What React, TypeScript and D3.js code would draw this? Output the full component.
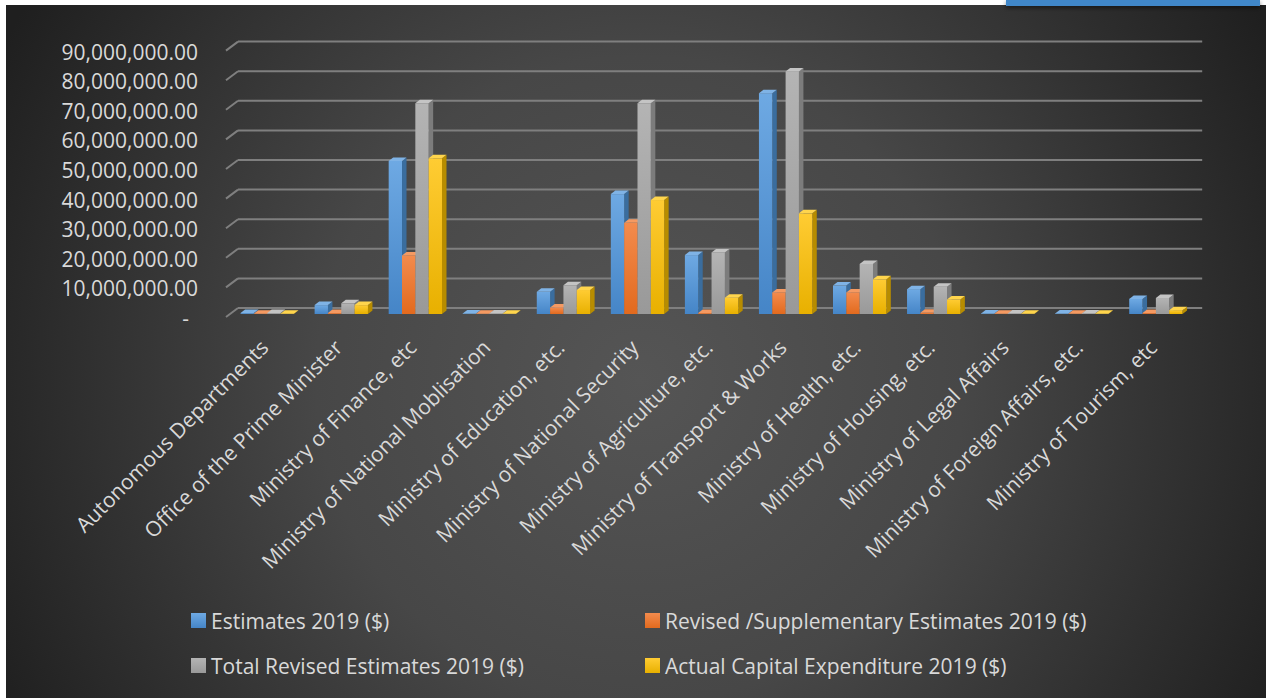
import React from "react";
import * as d3 from "d3";

const categories = [
  "Autonomous Departments",
  "Office of the Prime Minister",
  "Ministry of Finance, etc",
  "Ministry of National Moblisation",
  "Ministry of Education, etc.",
  "Ministry of National Security",
  "Ministry of Agriculture, etc.",
  "Ministry of Transport & Works",
  "Ministry of Health, etc.",
  "Ministry of Housing, etc.",
  "Ministry of Legal Affairs",
  "Ministry of Foreign Affairs, etc.",
  "Ministry of Tourism, etc",
];

const seriesNames = [
  "Estimates 2019 ($)",
  "Revised /Supplementary Estimates 2019 ($)",
  "Total Revised Estimates 2019 ($)",
  "Actual Capital Expenditure 2019 ($)",
];

const estimates = [0.3e6, 3.0e6, 51.7e6, 0.2e6, 7.5e6, 40.5e6, 19.9e6, 74.6e6, 9.6e6, 8.4e6, 0.2e6, 0.2e6, 5.1e6];
const revised = [0.1e6, 0.3e6, 19.8e6, 0.1e6, 2.2e6, 30.8e6, 0.3e6, 7.3e6, 7.3e6, 0.4e6, 0.1e6, 0.1e6, 0.3e6];
const totalRevised = [0.3e6, 3.6e6, 71.2e6, 0.2e6, 9.7e6, 71.2e6, 20.8e6, 81.9e6, 16.9e6, 9.2e6, 0.2e6, 0.2e6, 5.4e6];
const actual = [0.1e6, 3.0e6, 52.6e6, 0.1e6, 8.1e6, 38.5e6, 5.5e6, 34.0e6, 11.7e6, 4.9e6, 0.1e6, 0.1e6, 1.3e6];

const yTicks = [0, 10e6, 20e6, 30e6, 40e6, 50e6, 60e6, 70e6, 80e6, 90e6];

const seriesValues = [estimates, revised, totalRevised, actual];

const palette = [
  { top: "#7fb3e6", light: "#6ea9e3", dark: "#4585c7", side: "#3a6d9e" },
  { top: "#f59a62", light: "#f38b4d", dark: "#e26a1e", side: "#b4561a" },
  { top: "#c4c4c4", light: "#b4b4b4", dark: "#999999", side: "#7c7c7c" },
  { top: "#ffd54d", light: "#ffcc33", dark: "#e8b000", side: "#b78c00" },
];

const FONT = "'Open Sans', 'Noto Sans', sans-serif";
const TEXT = "#d9d9d9";
const FS = 21;

export default function App() {
  const W = 1266;
  const H = 698;
  const baseY = 314; // bar plane baseline
  const plotLeft = 230.2;
  const plotRight = 1192.9;
  const DX = 4.5;
  const DY = -3.5;
  // wall offsets relative to bar plane
  const backDX = 7.8, backDY = -6;
  const frontDX = -4.2, frontDY = 3;

  const h = d3.scaleLinear().domain([0, 90e6]).range([0, 266.4]);
  const x = d3
    .scaleBand<string>()
    .domain(categories)
    .range([plotLeft, plotRight])
    .paddingInner(0.28)
    .paddingOuter(0.14);
  const xs = d3
    .scaleBand<number>()
    .domain(seriesNames.map((_, i) => i))
    .range([0, x.bandwidth()]);
  const fmt = d3.format(",.2f");

  const gridBackLeft = plotLeft + backDX;
  const gridBackRight = plotRight + backDX + 1.5;

  return (
    <svg
      width={W}
      height={H}
      style={{ position: "absolute", left: 0, top: 0, display: "block" }}
      fontFamily={FONT}
    >
      <defs>
        <radialGradient id="bg" cx="640" cy="380" r="720" gradientUnits="userSpaceOnUse">
          <stop offset="0" stopColor="#555555" />
          <stop offset="0.45" stopColor="#474747" />
          <stop offset="1" stopColor="#1f1f1f" />
        </radialGradient>
        {palette.map((p, i) => (
          <linearGradient key={i} id={`bar${i}`} x1="0" y1="0" x2="0" y2="1">
            <stop offset="0" stopColor={p.light} />
            <stop offset="1" stopColor={p.dark} />
          </linearGradient>
        ))}
        <filter id="shadow" x="-10%" y="-50%" width="120%" height="250%">
          <feDropShadow dx="0" dy="2" stdDeviation="2" floodColor="#000" floodOpacity="0.5" />
        </filter>
      </defs>
      <rect x={0} y={0} width={W} height={H} fill="#ffffff" />
      <rect x={6} y={5} width={W - 6} height={H - 5} fill="url(#bg)" />
      <rect x={1006} y={0} width={254} height={6} fill="#3f87c9" filter="url(#shadow)" />

      {/* gridlines */}
      <g stroke="#7f7f7f" strokeWidth={2} fill="none">
        {yTicks.map((t) => {
          const yb = baseY + backDY - h(t);
          const yf = baseY + frontDY - h(t);
          return (
            <g key={t}>
              <line x1={gridBackLeft} y1={yb} x2={gridBackRight} y2={yb} />
              <line x1={plotLeft + frontDX} y1={yf} x2={gridBackLeft} y2={yb} />
            </g>
          );
        })}
      </g>

      {/* y labels */}
      <g fill={TEXT} fontSize={FS}>
        {yTicks.map((t) => {
          const yf = baseY + frontDY - h(t) + 1;
          return (
            <text
              key={t}
              x={t === 0 ? 189 : 198}
              y={yf}
              textAnchor="end"
              dominantBaseline="central"
            >
              {t === 0 ? "-" : fmt(t)}
            </text>
          );
        })}
      </g>

      {/* bars */}
      {categories.map((c, ci) => (
        <g key={c}>
          {seriesValues.map((vals, si) => {
            const x0 = (x(c) as number) + (xs(si) as number);
            const w = xs.bandwidth();
            const hh = h(vals[ci]);
            const yt = baseY - hh;
            const p = palette[si];
            return (
              <g key={si}>
                <polygon
                  points={`${x0 + w},${baseY} ${x0 + w + DX},${baseY + DY} ${x0 + w + DX},${yt + DY} ${x0 + w},${yt}`}
                  fill={p.side}
                />
                <rect x={x0} y={yt} width={w} height={hh} fill={`url(#bar${si})`} />
                <polygon
                  points={`${x0},${yt} ${x0 + w},${yt} ${x0 + w + DX},${yt + DY} ${x0 + DX},${yt + DY}`}
                  fill={p.top}
                />
              </g>
            );
          })}
        </g>
      ))}

      {/* category labels */}
      <g fill={TEXT} fontSize={FS}>
        {categories.map((c) => {
          const cx = (x(c) as number) + x.bandwidth() / 2 + 2.5;
          const cy = 349;
          return (
            <text key={c} x={cx} y={cy} textAnchor="end" transform={`rotate(-45 ${cx} ${cy})`}>
              {c}
            </text>
          );
        })}
      </g>

      {/* legend */}
      <g fontSize={FS} fill={TEXT}>
        {seriesNames.map((s, i) => {
          const col = i % 2;
          const row = Math.floor(i / 2);
          const lx = col === 0 ? 191 : 645;
          const ly = row === 0 ? 613 : 658;
          return (
            <g key={s}>
              <rect x={lx} y={ly} width={15} height={15} fill={`url(#bar${i})`} />
              <text x={lx + 20} y={ly + 7.5} dominantBaseline="central">
                {s}
              </text>
            </g>
          );
        })}
      </g>
    </svg>
  );
}
